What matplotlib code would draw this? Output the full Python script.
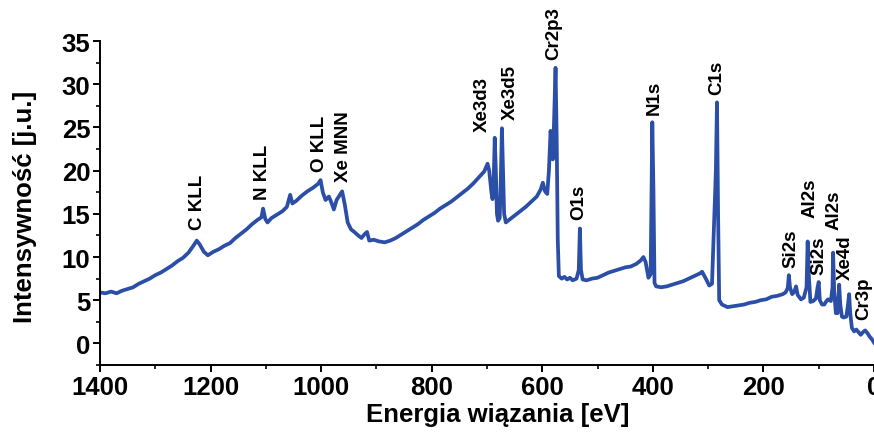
import numpy as np
import matplotlib.pyplot as plt

# widmo XPS - punkty
energia = [1400, 1390, 1380, 1370, 1360, 1350, 1340, 1330, 1320, 1310, 1300, 1290, 1280, 1270, 1260,
           1250, 1240, 1230, 1225, 1220, 1212, 1205, 1195, 1185, 1175, 1165, 1155, 1145, 1135, 1125,
           1115, 1108, 1105, 1101, 1097, 1090, 1080, 1070, 1062, 1056, 1052, 1045, 1035, 1025, 1015,
           1005, 1001, 997, 992, 986, 982, 977, 972, 966, 962, 957, 952, 946, 940, 933,
           927, 922, 917, 913, 905, 895, 885, 875, 865, 855, 845, 835, 825, 815, 805,
           795, 785, 775, 765, 755, 745, 735, 725, 715, 705, 699, 696, 692, 690, 688,
           686, 684, 682, 680, 677, 675, 673, 671, 669, 666, 660, 650, 640, 630, 620,
           610, 603, 599, 595, 591, 588, 585, 583, 581, 579, 576, 574, 572, 570, 565,
           560, 555, 550, 545, 538, 534, 532, 530, 527, 520, 510, 500, 490, 480, 470,
           460, 450, 440, 430, 422, 417, 413, 408, 404, 401, 399, 397, 394, 385, 375,
           365, 355, 345, 335, 325, 315, 311, 305, 298, 293, 286, 284, 282, 280, 275,
           265, 255, 245, 235, 225, 215, 205, 195, 185, 175, 165, 160, 156, 154, 152,
           148, 144, 141, 138, 132, 127, 122, 120, 118, 115, 110, 105, 102, 100, 98,
           94, 90, 86, 83, 78, 75, 74, 72, 69, 66, 63, 61, 58, 55, 50,
           47, 45, 43, 40, 36, 32, 28, 24, 20, 16, 12, 8, 4, 0]
intensywnosc = [5.9, 5.8, 6.0, 5.8, 6.1, 6.3, 6.5, 6.9, 7.2, 7.5, 7.9, 8.2, 8.6, 9.0, 9.5,
                9.9, 10.5, 11.4, 11.9, 11.5, 10.6, 10.2, 10.6, 10.9, 11.3, 11.6, 12.2, 12.7, 13.2, 13.8,
                14.3, 14.6, 15.6, 14.4, 14.0, 14.5, 14.9, 15.3, 15.8, 17.2, 16.2, 16.5, 17.1, 17.6, 18.0,
                18.5, 18.9, 17.5, 16.6, 17.0, 16.4, 15.5, 16.6, 17.2, 17.6, 16.0, 14.0, 13.2, 12.9, 12.5,
                12.2, 12.6, 12.9, 11.9, 12.0, 11.8, 11.7, 11.9, 12.2, 12.6, 13.0, 13.4, 13.8, 14.3, 14.7,
                15.1, 15.6, 16.0, 16.4, 16.9, 17.4, 17.9, 18.5, 19.2, 19.9, 20.8, 20.0, 17.5, 16.7, 18.5,
                23.8, 20.0, 15.0, 14.2, 14.5, 19.0, 24.9, 20.0, 15.0, 14.0, 14.3, 14.8, 15.3, 15.8, 16.4,
                17.0, 17.8, 18.6, 17.6, 17.3, 20.0, 24.6, 23.0, 21.3, 25.0, 31.9, 24.0, 12.0, 7.8, 7.5,
                7.7, 7.4, 7.6, 7.3, 7.5, 8.5, 13.3, 8.5, 7.4, 7.3, 7.5, 7.6, 7.9, 8.2, 8.4,
                8.6, 8.8, 8.9, 9.2, 9.6, 10.0, 9.4, 7.6, 8.0, 25.6, 18.0, 7.0, 6.6, 6.5, 6.6,
                6.8, 7.0, 7.2, 7.5, 7.8, 8.1, 8.3, 7.6, 6.7, 6.9, 20.0, 27.9, 15.0, 5.0, 4.5,
                4.2, 4.3, 4.4, 4.5, 4.7, 4.8, 5.0, 5.1, 5.4, 5.5, 5.7, 5.9, 6.4, 7.9, 6.5,
                5.7, 6.0, 6.6, 5.6, 5.1, 5.3, 6.5, 11.8, 8.0, 4.8, 4.9, 5.2, 6.5, 7.1, 5.0,
                4.5, 4.5, 4.9, 5.1, 4.9, 6.5, 10.5, 6.0, 3.5, 3.5, 6.8, 4.5, 3.1, 3.0, 3.1,
                4.5, 5.7, 3.5, 1.8, 1.4, 1.6, 1.3, 1.0, 1.3, 1.5, 1.2, 0.8, 0.5, 0.1]

# opisy pikow
piki = ["C KLL", "N KLL", "O KLL", "Xe MNN", "Xe3d3", "Xe3d5", "Cr2p3", "O1s", "N1s", "C1s",
        "Si2s", "Al2s", "Si2s", "Al2s", "Xe4d", "Cr3p"]
piki_x = [1224, 1106, 1003, 959, 708, 657, 579, 534, 398, 284, 150, 116, 100, 72, 51, 18]
piki_y = [13.2, 16.7, 19.9, 18.8, 24.6, 26.0, 32.9, 14.4, 26.5, 28.9, 8.8, 14.6, 8.0, 13.2, 7.4, 2.8]

plt.rcParams['font.family'] = ['Liberation Sans', 'DejaVu Sans']
plt.rcParams['font.weight'] = 'bold'

fig = plt.figure(figsize=(8.74, 4.35), dpi=100)
ax = fig.add_axes([0.1144, 0.1586, 0.8856, 0.7448])

ax.plot(np.array(energia), np.array(intensywnosc), color='#2b4ea6', lw=2.7, solid_joinstyle='round')

for nazwa, x, y in zip(piki, piki_x, piki_y):
    ax.text(x, y, nazwa, rotation=90, ha='center', va='bottom', fontsize=13.5, fontweight='bold')

ax.set_xlim(1400, 0)
ax.set_ylim(-2.5, 35)
ax.set_xticks(np.arange(1400, -1, -200))
ax.set_xticks(np.arange(1300, 0, -200), minor=True)
ax.set_yticks(np.arange(0, 36, 5))
ax.set_yticks(np.arange(-2.5, 35, 5), minor=True)

ax.spines['top'].set_visible(False)
ax.spines['right'].set_visible(False)
ax.spines['left'].set_linewidth(1.4)
ax.spines['bottom'].set_linewidth(1.4)
ax.tick_params(which='major', direction='out', length=5, width=1.4, labelsize=18.5, pad=2)
ax.tick_params(which='minor', direction='out', length=3, width=1.2)

ax.set_xlabel("Energia wiązania [eV]", fontsize=18.5, fontweight='bold')
ax.set_ylabel("Intensywność [j.u.]", fontsize=18.5, fontweight='bold')
ax.xaxis.set_label_coords(0.514, -0.115)
ax.yaxis.set_label_coords(-0.082, 0.49)

fig.savefig("out.png", dpi=100)
